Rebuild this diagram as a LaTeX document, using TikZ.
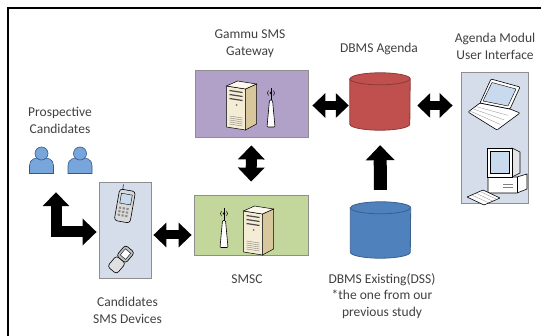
\documentclass[tikz,border=0pt]{standalone}
\usepackage{fontspec}
\setmainfont{Carlito}
\usetikzlibrary{arrows.meta}
\definecolor{gwpurple}{HTML}{B1A0C7}
\definecolor{smscgreen}{HTML}{C3D69B}
\definecolor{devblue}{HTML}{D5DDEA}
\definecolor{boxline}{HTML}{8E8E8E}
\definecolor{dbred}{HTML}{C0504D}
\definecolor{dbredline}{HTML}{8C3A38}
\definecolor{dbblue}{HTML}{4F81BD}
\definecolor{dbblueline}{HTML}{3A5F8C}
\definecolor{txtgray}{HTML}{404040}
\definecolor{srvfront}{HTML}{F4ECD4}
\definecolor{srvside}{HTML}{D8C79C}
\definecolor{srvtop}{HTML}{FBF7EA}
\definecolor{personfill}{HTML}{78A6DA}
\definecolor{personline}{HTML}{2E5A8C}
\definecolor{screenblue}{HTML}{C9D9EE}
% drum drawn round a named node (60pt wide): name, fill, line
\newcommand{\dbdrum}[3]{%
  \draw[fill=#2, draw=#3, line width=0.8pt] ([yshift=-6pt]#1.north west) -- ([yshift=6pt]#1.south west)
    arc[start angle=180,end angle=360,x radius=30pt,y radius=6pt]
    -- ([yshift=-6pt]#1.north east)
    arc[start angle=0,end angle=180,x radius=30pt,y radius=6pt] -- cycle;
  \draw[draw=#3, line width=0.8pt] ([yshift=-6pt]#1.north west)
    arc[start angle=180,end angle=360,x radius=30pt,y radius=6pt];
}
\tikzset{
  sysbox/.style={draw=boxline, line width=0.8pt, inner sep=0pt},
  dbnode/.style={inner sep=0pt, minimum width=60pt},
  lbl/.style={font=\fontsize{13.5}{16.5}\selectfont, text=txtgray, align=center, inner sep=0pt, anchor=north},
  biarrow/.style={line width=9pt, >={Triangle[length=13pt,width=24pt]}, <->},
  vbiarrow/.style={line width=11pt, >={Triangle[length=14pt,width=26pt]}, <->},
  uparrow/.style={line width=13pt, >={Triangle[length=15pt,width=28pt]}, ->},
  %iconos
  server/.pic={
    \draw[fill=srvside, line width=0.5pt] (4,-25) -- (15,-19) -- (15,21) -- (4,16) -- cycle;
    \draw[fill=srvfront, line width=0.5pt] (-15,-22) -- (4,-25) -- (4,16) -- (-15,19) -- cycle;
    \draw[fill=srvtop, line width=0.5pt] (-15,19) -- (4,16) -- (15,21) -- (-4,24) -- cycle;
    \foreach \k in {0,1,2}
      \draw[line width=1.2pt, black!70] (-12,14.5-4*\k) -- (1,12.5-4*\k);
    \fill[black!55] (-5,0) circle (1pt);
    \foreach \k in {0,...,4}
      \draw[line width=0.4pt, black!50] (-12,-11-2*\k) -- (1,-13-2*\k);
  },
  antenna/.pic={
    \draw[fill=white, line width=0.6pt, rounded corners=1pt] (-4,-21) -- (-1.5,6) -- (1.5,6) -- (4,-21) -- cycle;
    \draw[line width=0.8pt] (0,6) -- (0,18);
    \fill (0,13) circle (1.3pt);
    \draw[line width=0.5pt] (-2.5,10.5) arc[start angle=225,end angle=135,radius=3.5];
    \draw[line width=0.5pt] (2.5,10.5) arc[start angle=-45,end angle=45,radius=3.5];
  },
  laptop/.pic={
    \draw[fill=white, line width=0.6pt, rounded corners=1pt] (-14,2) -- (-26,-7) -- (3,-25) -- (26,-8) -- (16,-4) -- cycle;
    \foreach \t in {0.3,0.55,0.8}
      \draw[line width=0.3pt, black!45] ({-14-12*\t},{1-9*\t}) -- ({19-16*\t},{-5-18*\t});
    \draw[fill=white, line width=0.6pt, rounded corners=1pt] (-14,2) -- (-3,26) -- (26,18) -- (16,-4) -- cycle;
    \draw[fill=screenblue, line width=0.4pt] (-11,4) -- (-2,22.5) -- (22,16) -- (14,-1) -- cycle;
  },
  desktop/.pic={
    \draw[fill=white, line width=0.6pt] (-7,-1) -- (22,-1) -- (32,2) -- (32,-13) -- (22,-17) -- (-7,-17) -- cycle;
    \draw[line width=0.4pt] (22,-1) -- (22,-17);
    \draw[line width=0.4pt, black!50] (8,-8) -- (18,-8) (8,-11) -- (18,-11);
    \draw[fill=black!10, line width=0.6pt] (17,28) -- (25,24) -- (25,3) -- (17,-1) -- cycle;
    \draw[fill=white, line width=0.6pt] (-8,-1) rectangle (17,28);
    \draw[fill=screenblue, line width=0.4pt] (-5,3) rectangle (14,25);
    \draw[fill=white, line width=0.6pt, rounded corners=0.5pt] (-28,-21) -- (-12,-14) -- (5,-22) -- (-11,-29) -- cycle;
    \foreach \t in {0.3,0.55,0.8}
      \draw[line width=0.3pt, black!45] ({-28+16*\t},{-21+7*\t}) -- ({-11+16*\t},{-29+7*\t});
  },
  cellphone/.pic={
    \begin{scope}[rotate=-10]
      \draw[line width=0.8pt, personline] (-5,14) -- (-5,20);
      \draw[fill=black!15, line width=0.6pt, rounded corners=3pt] (-8,-17) rectangle (8,15);
      \draw[fill=screenblue, line width=0.4pt] (-5.5,1) rectangle (5.5,11);
      \foreach \i in {0,1,2}
        \foreach \j in {0,1,2}
          \fill[black!45] ({-5.5+\i*3.8},{-4.5-\j*3.6}) rectangle ++(2.2,2);
    \end{scope}
  },
  flipphone/.pic={
    \begin{scope}[rotate=-40]
      \draw[fill=black!12, line width=0.6pt, rounded corners=3pt] (-6,-14) rectangle (6,0);
      \draw[fill=black!25, line width=0.6pt, rounded corners=3pt] (-6,0) rectangle (6,14);
      \draw[fill=white, line width=0.4pt] (-3.5,3) rectangle (3.5,11);
    \end{scope}
  },
  person/.pic={
    \draw[fill=personfill, draw=personline, line width=0.6pt] (-12,-13) -- (-12,-5) .. controls (-12,1.5) and (-6,3) .. (0,3) .. controls (6,3) and (12,1.5) .. (12,-5) -- (12,-13) -- cycle;
    \draw[fill=personfill, draw=personline, line width=0.6pt] (0,7) circle (6.5);
  }
}
\begin{document}
\begin{tikzpicture}[x=1pt,y=1pt]
  \useasboundingbox (0,0) rectangle (541,335);
  %marco
  \draw[line width=1.6pt] (8,-2) -- (8,327) -- (545,327);

  %cajas
  \node[sysbox, fill=gwpurple, minimum width=113pt, minimum height=67pt] at (251.5,231.5) (gateway) {};
  \node[sysbox, fill=smscgreen, minimum width=114pt, minimum height=60pt] at (251,110) (smsc) {};
  \node[sysbox, fill=devblue, minimum width=67pt, minimum height=131pt] at (494.5,197.5) (ui) {};
  \node[sysbox, fill=devblue, minimum width=52pt, minimum height=96pt] at (125,105) (phones) {};
  \node[minimum width=64pt, minimum height=26pt] at (61,174) (people) {};
  %bases de datos
  \node[dbnode, minimum height=57pt] at (380,233.5) (agenda) {};
  \dbdrum{agenda}{dbred}{dbredline}
  \node[dbnode, minimum height=56pt] at (380.5,105) (existing) {};
  \dbdrum{existing}{dbblue}{dbblueline}

  %iconos
  \pic at (241.5,230) {server};
  \pic at (271,229) {antenna};
  \pic at (224,108.5) {antenna};
  \pic at (258.5,105) {server};
  \pic at (494,230) {laptop};
  \pic at (495,159) {desktop};
  \pic at (125,130) {cellphone};
  \pic at (121,75.5) {flipphone};
  \pic at (41.5,174.5) {person};
  \pic at (80,174.5) {person};

  %flechas
  \draw[biarrow, shorten <=4pt, shorten >=1pt] ([yshift=-2pt]gateway.east) -- ([yshift=-2pt]gateway.east -| agenda.west);
  \draw[biarrow, shorten <=7pt, shorten >=8pt] ([yshift=-4pt]agenda.east) -- ([yshift=-4pt]agenda.east -| ui.west);
  \draw[vbiarrow, shorten <=8pt, shorten >=13pt] (gateway.south) -- (smsc.north);
  \draw[uparrow, shorten <=12pt, shorten >=15pt] (existing.north) -- (agenda.south);
  \draw[biarrow, shorten <=2pt, shorten >=2pt] ([yshift=-5pt]phones.east) -- ([yshift=-5pt]phones.east -| smsc.west);
  \draw[vbiarrow, line join=miter, shorten <=18pt, shorten >=2pt] ([xshift=-5pt]people.south) |- ([yshift=-2pt]phones.west);

  %textos
  \node[lbl] at (250,305) (lblgateway) {Gammu SMS\\Gateway};
  \node[lbl] at (379,292) (lblagenda) {DBMS Agenda};
  \node[lbl] at (495,302) (lblui) {Agenda Modul\\User Interface};
  \node[lbl] at (247,60) (lblsmsc) {SMSC};
  \node[lbl] at (382,62) (lblexisting) {DBMS Existing(DSS)\\*the one from our\\previous study};
  \node[lbl] at (127.5,38) (lblphones) {Candidates\\SMS Devices};
  \node[lbl] at (60,228) (lblpeople) {Prospective\\Candidates};
\end{tikzpicture}
\end{document}
